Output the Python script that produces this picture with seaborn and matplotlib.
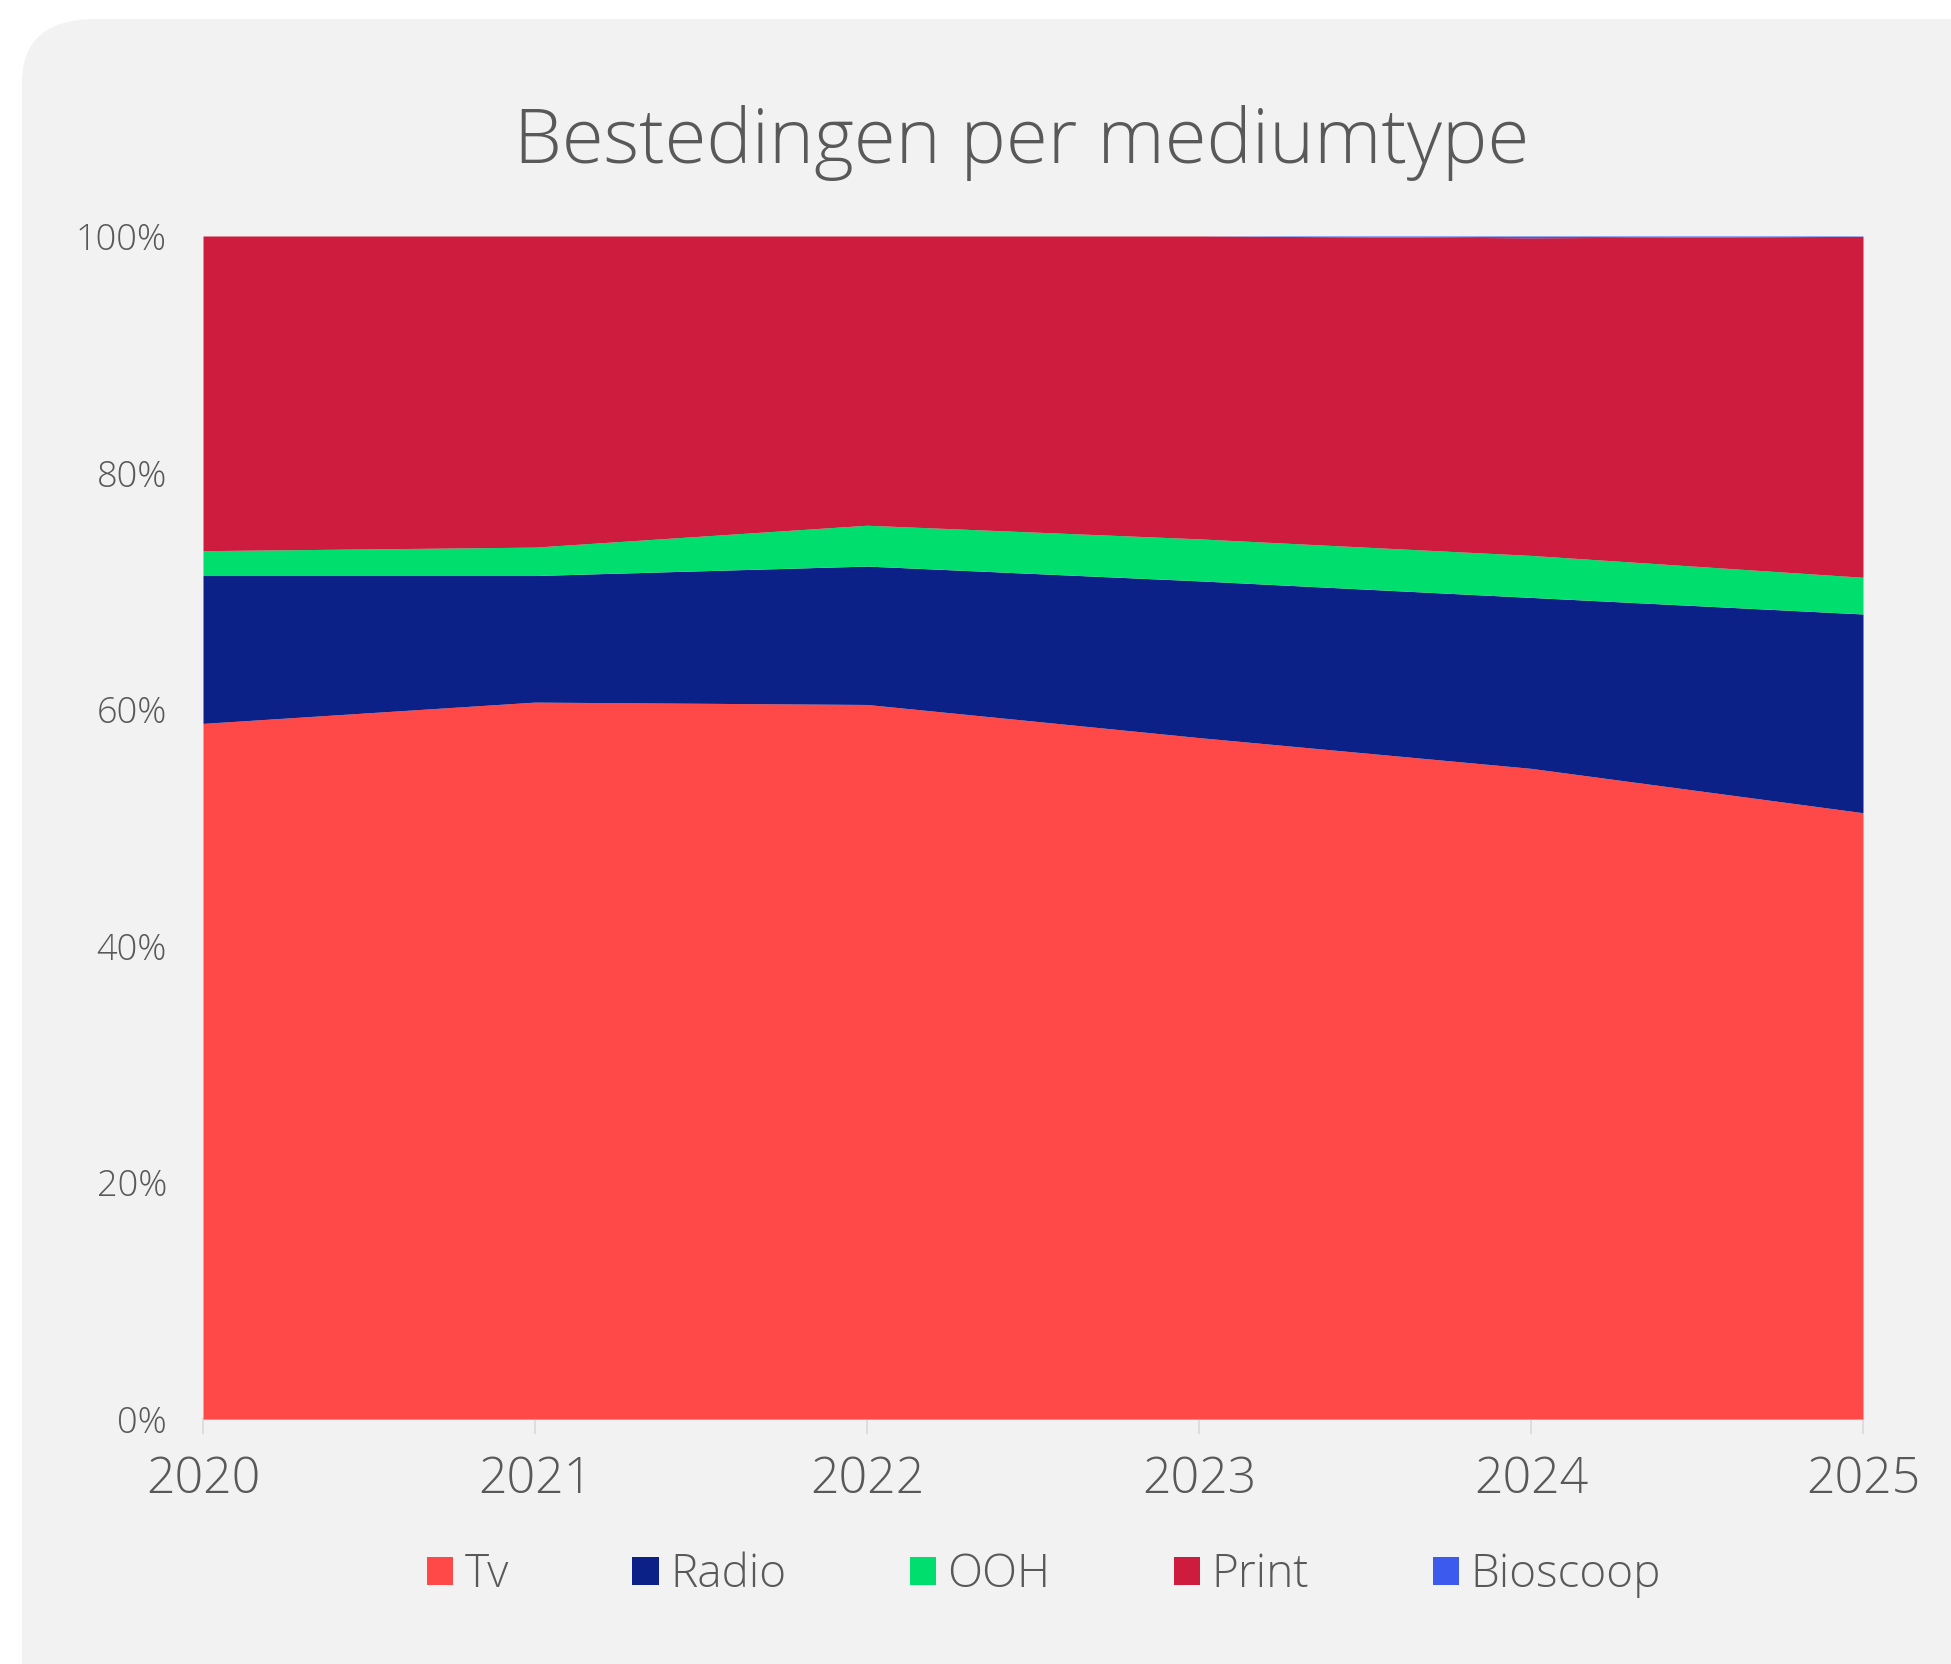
import matplotlib
matplotlib.use("Agg")
import matplotlib.pyplot as plt
from matplotlib.patches import FancyBboxPatch, Patch
from matplotlib.ticker import FuncFormatter
import seaborn as sns
import pandas as pd

# ---- data (shares in %) ----
years = [2020, 2021, 2022, 2023, 2024, 2025]
tv = [58.8, 60.6, 60.4, 57.6, 55.0, 51.25]
radio = [12.5, 10.7, 11.7, 13.25, 14.45, 16.8]
ooh = [2.1, 2.4, 3.45, 3.55, 3.55, 3.1]
print_ = [26.6, 26.3, 24.45, 25.6, 26.85, 28.82]
bioscoop = [0.0, 0.0, 0.0, 0.0, 0.15, 0.03]
series_names = ["Tv", "Radio", "OOH", "Print", "Bioscoop"]
y_ticks = [0, 20, 40, 60, 80, 100]
title = "Bestedingen per mediumtype"

colors = ["#FF4848", "#0C2188", "#00DE6E", "#CE1C3E", "#3C5BEE"]
text_color = "#595959"

df = pd.DataFrame({"year": years, "Tv": tv, "Radio": radio, "OOH": ooh,
                   "Print": print_, "Bioscoop": bioscoop})

sns.set_theme(style="white")
plt.rcParams["font.family"] = ["Open Sans", "DejaVu Sans"]
plt.rcParams["font.weight"] = "light"

W, H = 1951, 1664
fig = plt.figure(figsize=(W / 100, H / 100), dpi=100)
fig.patch.set_facecolor("white")

# rounded background card
card = FancyBboxPatch((22 / W, -0.05), 1.05, (H - 19) / H + 0.05,
                      boxstyle="round,pad=0,rounding_size=0.038",
                      transform=fig.transFigure, facecolor="#F2F2F2",
                      edgecolor="none", zorder=-10)
fig.patches.append(card)

ax = fig.add_axes([203 / W, (H - 1419) / H, (1863 - 203) / W, (1419 - 236) / H])
ax.set_facecolor("none")
ax.set_zorder(5)

ax.stackplot(df["year"], [df[n] for n in series_names], colors=colors,
             labels=series_names, linewidth=0, antialiased=True)

ax.set_xlim(years[0], years[-1])
ax.set_ylim(0, 100)
ax.set_xticks(years)
ax.set_xticklabels([str(y) for y in years], fontweight="light")
ax.set_yticks(y_ticks)
ax.yaxis.set_major_formatter(FuncFormatter(lambda v, p: f"{int(v)}%"))

for s in ["top", "right", "left"]:
    ax.spines[s].set_visible(False)
ax.spines["bottom"].set_color("#D9D9D9")
ax.spines["bottom"].set_linewidth(1.5)
ax.spines["bottom"].set_zorder(0)

ax.tick_params(axis="x", which="major", bottom=True, length=11, width=1.2,
               color="#D9D9D9", pad=15, labelsize=36, labelcolor=text_color)
ax.tick_params(axis="y", which="major", left=False, length=0, pad=26,
               labelsize=26, labelcolor=text_color)
ax.grid(False)

fig.text(1022 / W, (H - 163) / H, title, ha="center", va="baseline",
         fontsize=55, color=text_color, fontweight="light")

handles = [Patch(facecolor=c, edgecolor="none") for c in colors]
fig.legend(handles, series_names, loc="center", bbox_to_anchor=(1044 / W, (H - 1575) / H),
           ncol=5, frameon=False, labelcolor=text_color,
           prop={"size": 33, "weight": "light"},
           handlelength=0.57, handleheight=0.57, handletextpad=0.25,
           columnspacing=2.7, borderaxespad=0)

fig.savefig("out.png", dpi=100, facecolor="white")
